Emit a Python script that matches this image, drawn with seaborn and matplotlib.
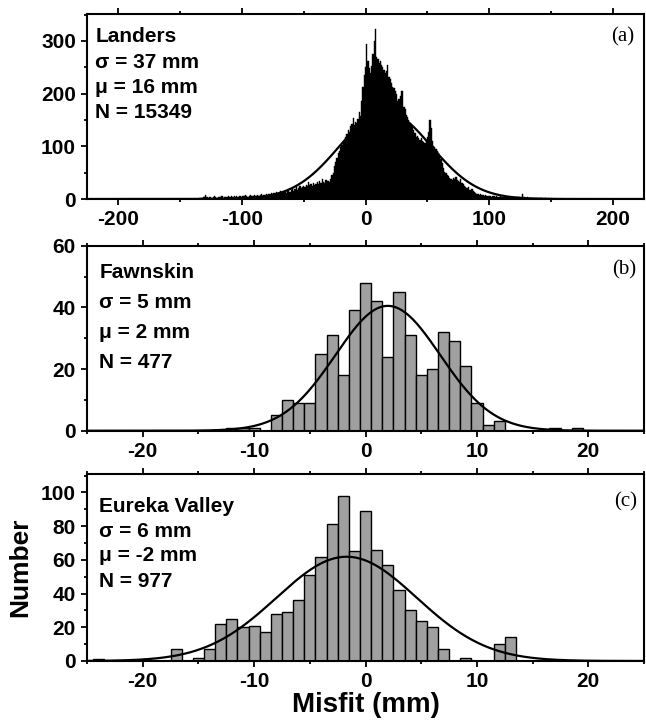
import numpy as np
import pandas as pd
import matplotlib
matplotlib.use("Agg")
import matplotlib.pyplot as plt
from matplotlib.ticker import MultipleLocator
import seaborn as sns

# ---------------- data ----------------
# Landers: 1-mm bins starting at -135 mm
landers_start = -135
landers_counts = [
    0, 1, 2, 1, 3,
    4, 8, 3, 2, 3, 4, 2, 3, 5, 3,
    2, 4, 3, 3, 5, 2, 4, 3, 4, 5,
    3, 4, 5, 3, 6, 4, 5, 3, 5, 6,
    4, 6, 5, 7, 5, 4, 6, 8, 5, 6,
    7, 5, 6, 8, 6, 7, 9, 6, 8, 7,
    9, 7, 10, 8, 12, 9, 11, 10, 13, 11,
    12, 15, 11, 14, 13, 16, 12, 15, 18, 14,
    17, 20, 16, 19, 22, 18, 21, 24, 20, 23,
    25, 22, 27, 24, 33, 26, 28, 25, 30, 27,
    29, 32, 28, 35, 30, 38, 33, 31, 36, 34,
    35, 32, 38, 45, 50, 62, 70, 78, 87, 92,
    98, 102, 106, 110, 118, 124, 131, 128, 138, 142,
    153, 140, 146, 144, 152, 165, 158, 185, 213, 235,
    250, 295, 262, 248, 240, 252, 275, 300, 322, 270,
    266, 258, 262, 254, 250, 245, 239, 242, 255, 232,
    228, 220, 213, 210, 205, 200, 185, 190, 196, 205,
    204, 175, 170, 160, 156, 150, 145, 140, 137, 130,
    125, 118, 120, 115, 112, 116, 110, 108, 106, 112,
    118, 128, 150, 135, 110, 100, 99, 95, 92, 88,
    82, 76, 68, 58, 52, 50, 46, 44, 40, 38,
    36, 40, 38, 42, 37, 35, 33, 38, 30, 28,
    25, 22, 20, 23, 18, 17, 19, 15, 13, 12,
    10, 9, 8, 9, 7, 8, 6, 7, 6, 5,
    6, 5, 4, 5, 6, 4, 5, 4, 3, 5,
    4, 3, 5, 4, 3, 4, 3, 2, 4, 3,
    3, 2, 4, 3, 3, 2, 3, 10, 3, 2,
    2, 3, 2, 1, 2, 2, 1, 2, 1, 1,
    1, 2, 1, 1, 0, 1, 1, 0, 1, 0, 1,
]

# Fawnskin: 1-mm bins starting at -12 mm
fawn_start = -12
fawn_counts = [1, 1, 1, 0, 5, 10, 9, 9, 25, 31, 18, 39, 48, 42, 24, 45,
               31, 18, 20, 32, 29, 21, 9, 2, 3, 0, 0, 0, 0, 1, 0, 1]

# Eureka Valley: 1-mm bins starting at -24 mm
eureka_start = -24
eureka_counts = [1, 0, 0, 0, 0, 0, 0, 7, 0, 2, 7, 22, 25, 20, 21, 17, 28,
                 29, 36, 51, 62, 81, 98, 65, 89, 66, 57, 42, 30, 24, 20, 7,
                 0, 2, 0, 0, 10, 14]

# fitted normal curves (mu, sigma, N), 1-mm bin width
fit_params = {
    "a": (16.0, 37.0, 15349),
    "b": (2.0, 4.7, 477),
    "c": (-1.7, 6.3, 977),
}

names = ["Landers", "Fawnskin", "Eureka Valley"]
sigma_txt = ["37", "5", "6"]
mu_txt = ["16", "2", "-2"]
n_txt = ["15349", "477", "977"]
panel_tags = ["(a)", "(b)", "(c)"]

# ---------------- style ----------------
sns.set_theme(style="ticks")
plt.rcParams["font.family"] = ["Liberation Sans", "DejaVu Sans"]
plt.rcParams["font.weight"] = "bold"
plt.rcParams["axes.linewidth"] = 1.5
plt.rcParams["axes.unicode_minus"] = False
plt.rcParams["text.color"] = "black"
plt.rcParams["axes.labelcolor"] = "black"
plt.rcParams["xtick.color"] = "black"
plt.rcParams["ytick.color"] = "black"

fig = plt.figure(figsize=(6.46, 7.25), dpi=100)

axes_pos = [
    [0.1347, 0.7255, 0.8623, 0.2552],
    [0.1347, 0.4059, 0.8623, 0.2552],
    [0.1347, 0.0883, 0.8623, 0.2580],
]

datasets = [
    (landers_start, landers_counts, "black", "black", 0.3),
    (fawn_start, fawn_counts, "#a0a0a0", "black", 1.0),
    (eureka_start, eureka_counts, "#a0a0a0", "black", 1.0),
]

xlims = [(-225, 225), (-25, 25), (-25, 25)]
ylims = [(0, 351), (0, 60), (0, 111)]
xmaj = [100, 10, 10]
xmin = [50, 5, 5]
ymaj = [100, 20, 20]
ymin = [50, 10, 10]

text_x = [0.015, 0.022, 0.022]
text_base = [
    [0.850, 0.707, 0.573, 0.437],
    [0.824, 0.662, 0.500, 0.337],
    [0.798, 0.665, 0.536, 0.397],
]
tag_pos = [(0.962, 0.876), (0.964, 0.869), (0.967, 0.852)]

for i, key in enumerate(["a", "b", "c"]):
    ax = fig.add_axes(axes_pos[i])
    start, counts, col, ec, lw = datasets[i]
    centers = start + np.arange(len(counts))
    lo = float(centers[0]) - 0.5
    hi = float(centers[-1]) + 0.5
    df = pd.DataFrame({"x": centers.astype(float), "w": counts})
    sns.histplot(data=df, x="x", weights="w", binwidth=1.0, binrange=(lo, hi),
                 color=col, alpha=1, ax=ax, element="bars", fill=True,
                 edgecolor=ec, linewidth=lw)

    mu, sg, n = fit_params[key]
    xs = np.linspace(xlims[i][0], xlims[i][1], 600)
    ys = n / (sg * np.sqrt(2 * np.pi)) * np.exp(-0.5 * ((xs - mu) / sg) ** 2)
    sns.lineplot(x=xs, y=ys, color="black", linewidth=1.6, ax=ax, sort=False)

    ax.set_xlim(*xlims[i])
    ax.set_ylim(*ylims[i])
    ax.set_xlabel("")
    ax.set_ylabel("")
    ax.xaxis.set_major_locator(MultipleLocator(xmaj[i]))
    ax.xaxis.set_minor_locator(MultipleLocator(xmin[i]))
    ax.yaxis.set_major_locator(MultipleLocator(ymaj[i]))
    ax.yaxis.set_minor_locator(MultipleLocator(ymin[i]))
    ax.tick_params(axis="both", which="both", direction="out", width=1.3,
                   colors="black", labelsize=15)
    ax.tick_params(axis="both", which="major", length=4, pad=4)
    ax.tick_params(axis="both", which="minor", length=2.5)
    ax.tick_params(axis="x", which="both", top=True, labeltop=False)
    for lab in ax.get_xticklabels() + ax.get_yticklabels():
        lab.set_fontweight("bold")
        lab.set_color("black")
    for sp in ax.spines.values():
        sp.set_visible(True)
        sp.set_color("black")
        sp.set_linewidth(1.5)

    lines = [names[i], "σ = %s mm" % sigma_txt[i], "μ = %s mm" % mu_txt[i],
             "N = %s" % n_txt[i]]
    for t, yb in zip(lines, text_base[i]):
        ax.text(text_x[i], yb, t, transform=ax.transAxes, fontsize=15,
                fontweight="bold", ha="left", va="baseline", color="black")
    ax.text(tag_pos[i][0], tag_pos[i][1], panel_tags[i], transform=ax.transAxes,
            fontsize=15, fontweight="normal", ha="center", va="center",
            family=["Liberation Serif", "DejaVu Serif"], color="black")

    if i == 2:
        ax.set_xlabel("Misfit (mm)", fontsize=20, fontweight="bold",
                      labelpad=1, color="black")

fig.text(0.032, 0.218, "Number", rotation=90, fontsize=19, fontweight="bold",
         ha="center", va="center", color="black")

fig.savefig("out.png", dpi=100)
